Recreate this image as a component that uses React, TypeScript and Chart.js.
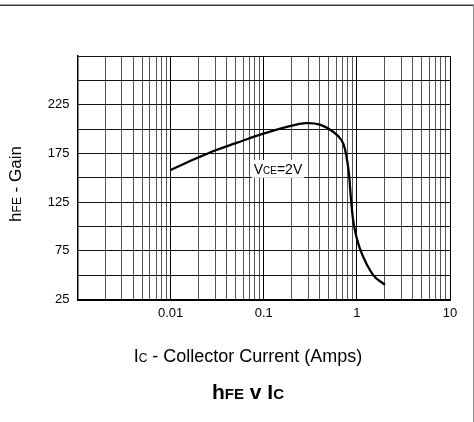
import React, { useEffect, useRef } from "react";
import { Chart, registerables } from "chart.js";

Chart.register(...registerables);

// Collector current (A) and gain values (VCE = 2V)
const CURRENT_A = [0.01, 0.02, 0.03, 0.05, 0.09, 0.19, 0.28, 0.4, 0.56, 0.685, 0.75, 0.8, 0.83, 0.87, 0.935, 1.1, 1.5, 2.0];
const GAIN = [158, 171, 178, 185.5, 194, 203, 206, 204.5, 197, 188.5, 178, 163, 150, 125, 100, 75, 50, 40];

const X_MIN = 0.001;
const X_MAX = 10;
const X_TICK_LABELS = ["0.01", "0.1", "1", "10"];
const Y_MIN = 25;
const Y_MAX = 275;
const Y_STEP = 25;
const Y_TICK_LABELS = [25, 75, 125, 175, 225];

const ANNOTATION = { x: 0.078, y: 154 };
const FONT = "'Liberation Sans', Arial, Helvetica, sans-serif";

type Run = [string, number, boolean?];

function runsWidth(ctx: CanvasRenderingContext2D, runs: Run[]) {
  let w = 0;
  for (const [t, s, b] of runs) {
    ctx.font = `${b ? "bold " : ""}${s}px ${FONT}`;
    w += ctx.measureText(t).width;
  }
  return w;
}

function drawRuns(ctx: CanvasRenderingContext2D, runs: Run[], x: number, y: number, align: "left" | "center") {
  const total = runsWidth(ctx, runs);
  let cx = align === "center" ? x - total / 2 : x;
  ctx.textBaseline = "alphabetic";
  ctx.textAlign = "left";
  for (const [t, s, b] of runs) {
    ctx.font = `${b ? "bold " : ""}${s}px ${FONT}`;
    ctx.fillText(t, cx, y);
    cx += ctx.measureText(t).width;
  }
}

const decorPlugin = {
  id: "decor",
  afterDraw(chart: any) {
    const ctx: CanvasRenderingContext2D = chart.ctx;
    const xs = chart.scales.x;
    const ys = chart.scales.y;
    ctx.save();
    // frame
    ctx.fillStyle = "#a0a0a0";
    ctx.fillRect(0, 4, 474, 1);
    ctx.fillStyle = "#3a3a3a";
    ctx.fillRect(0, 5, 474, 1);
    ctx.fillStyle = "#8a8a8a";
    ctx.fillRect(473, 5, 1, 417);

    // annotation
    const ax = xs.getPixelForValue(ANNOTATION.x);
    const ay = ys.getPixelForValue(ANNOTATION.y);
    const runs: Run[] = [["V", 14], ["CE", 10], ["=2V", 14]];
    const w = runsWidth(ctx, runs);
    ctx.fillStyle = "#fff";
    ctx.fillRect(ax - 2, ay - 14, w + 4, 18);
    ctx.fillStyle = "#000";
    drawRuns(ctx, runs, ax, ay, "left");

    // x title
    drawRuns(ctx, [["I", 18], ["C", 12], [" - Collector Current (Amps)", 18]], 248, 362, "center");
    // chart title
    drawRuns(ctx, [["h", 21, true], ["FE", 15, true], [" v I", 21, true], ["C", 15, true]], 248, 399, "center");
    // y title
    ctx.translate(20.5, 184);
    ctx.rotate(-Math.PI / 2);
    drawRuns(ctx, [["h", 17], ["FE", 12], [" - Gain", 17]], 0, 0, "center");
    ctx.restore();
  },
};

function buildLogTicks() {
  const ticks: { value: number }[] = [];
  for (let e = Math.log10(X_MIN); e < Math.log10(X_MAX); e++) {
    for (let s = 1; s <= 9; s++) ticks.push({ value: +(s * Math.pow(10, e)).toPrecision(3) });
  }
  ticks.push({ value: X_MAX });
  return ticks;
}

const isDecade = (v: number) => Math.abs(Math.log10(v) - Math.round(Math.log10(v))) < 1e-9;

export default function App() {
  const ref = useRef<HTMLCanvasElement | null>(null);
  useEffect(() => {
    document.body.style.margin = "0";
    const canvas = ref.current!;
    const chart = new Chart(canvas, {
      type: "line",
      data: {
        datasets: [
          {
            data: CURRENT_A.map((x, i) => ({ x, y: GAIN[i] })),
            borderColor: "#000",
            borderWidth: 2.3,
            pointRadius: 0,
            tension: 0.4,
            fill: false,
          },
        ],
      },
      options: {
        animation: false,
        responsive: false,
        devicePixelRatio: 1,
        layout: { padding: { top: 56, right: 24, left: 0, bottom: 0 } },
        plugins: { legend: { display: false }, tooltip: { enabled: false }, title: { display: false } },
        scales: {
          x: {
            type: "logarithmic",
            min: X_MIN,
            max: X_MAX,
            afterBuildTicks: (scale: any) => {
              scale.ticks = buildLogTicks();
            },
            afterFit: (scale: any) => {
              scale.height = 122.5;
            },
            ticks: {
              autoSkip: false,
              maxRotation: 0,
              padding: 6,
              color: "#000",
              font: { family: FONT, size: 13 },
              callback: (v: any) => {
                const s = String(+Number(v).toPrecision(3));
                return X_TICK_LABELS.includes(s) ? s : "";
              },
            },
            grid: {
              drawTicks: false,
              color: (c: any) => (c.tick && isDecade(c.tick.value) ? "#000" : "#555"),
              lineWidth: 1,
            },
            border: { color: "#000", width: 2 },
          },
          y: {
            min: Y_MIN,
            max: Y_MAX,
            afterFit: (scale: any) => {
              scale.width = 77.5;
            },
            ticks: {
              stepSize: Y_STEP,
              padding: 8,
              color: "#000",
              font: { family: FONT, size: 13 },
              callback: (v: any) => (Y_TICK_LABELS.includes(Number(v)) ? String(v) : ""),
            },
            grid: { drawTicks: false, color: "#111", lineWidth: 1 },
            border: { color: "#000", width: 1.5 },
          },
        },
      },
      plugins: [decorPlugin],
    } as any);
    return () => chart.destroy();
  }, []);
  return (
    <div style={{ width: 474, height: 422 }}>
      <canvas ref={ref} width={474} height={422} style={{ width: 474, height: 422, display: "block" }} />
    </div>
  );
}
